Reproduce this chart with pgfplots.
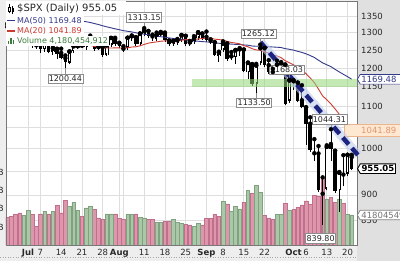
\documentclass[border=0pt]{standalone}
\usepackage{fontspec}
\setmainfont{DejaVu Sans}
\usepackage{pgfplots}
\usepackage{pgfplotstable}
\pgfplotsset{compat=1.18}
\usetikzlibrary{shapes.symbols}

\definecolor{gridc}{RGB}{222,222,222}
\definecolor{monthc}{RGB}{170,170,170}
\definecolor{framec}{RGB}{120,120,120}
\definecolor{panelc}{RGB}{224,224,224}
\definecolor{stripc}{RGB}{238,238,238}
\definecolor{ma50c}{RGB}{52,58,138}
\definecolor{ma20c}{RGB}{204,58,48}
\definecolor{vpink}{RGB}{222,150,172}
\definecolor{vpinkd}{RGB}{192,112,138}
\definecolor{vgreen}{RGB}{170,200,168}
\definecolor{vgreend}{RGB}{128,162,128}
\definecolor{bandc}{RGB}{150,215,120}
\definecolor{trendc}{RGB}{28,36,128}
\definecolor{haloc}{RGB}{190,205,235}
\definecolor{textc}{RGB}{40,40,40}
\definecolor{volc}{RGB}{60,125,60}
\definecolor{calloutc}{RGB}{140,140,140}
\definecolor{peach}{RGB}{255,232,210}
\definecolor{peachd}{RGB}{238,180,140}
\definecolor{peacht}{RGB}{225,150,110}

% up candles (close > open)
\pgfplotstableread{
i o h l c
-4 1314.54 1335.63 1314.54 1321.97
-1 1278.06 1290.31 1274.86 1280.00
0 1276.69 1285.31 1260.68 1284.91
4 1251.84 1274.17 1242.84 1273.70
6 1245.25 1257.65 1236.76 1253.39
10 1214.65 1245.52 1211.39 1245.36
11 1246.31 1262.31 1241.49 1260.32
12 1258.22 1262.23 1251.81 1260.68
14 1257.08 1277.42 1248.83 1277.00
15 1278.87 1291.17 1276.06 1282.19
17 1253.51 1263.23 1251.75 1257.76
19 1236.38 1263.20 1236.38 1263.20
20 1264.52 1284.33 1264.52 1284.26
24 1254.87 1284.88 1254.67 1284.88
25 1283.99 1291.67 1276.00 1289.19
27 1266.29 1297.85 1262.11 1296.32
28 1294.42 1313.15 1292.17 1305.32
31 1282.11 1300.11 1276.84 1292.93
32 1293.85 1302.05 1290.74 1298.20
35 1267.34 1276.01 1261.16 1274.54
36 1271.07 1281.40 1265.22 1277.72
37 1277.59 1293.09 1277.59 1292.20
39 1267.03 1275.65 1263.21 1271.51
40 1271.29 1289.59 1270.03 1281.66
41 1283.79 1300.68 1283.79 1300.68
46 1233.21 1244.94 1217.23 1242.31
47 1249.50 1274.42 1247.12 1267.79
49 1227.50 1243.90 1221.60 1232.04
50 1229.04 1249.98 1211.54 1249.05
51 1245.88 1255.09 1233.81 1251.70
53 1188.31 1214.84 1169.28 1213.60
55 1157.08 1211.14 1133.50 1206.51
56 1213.11 1265.12 1213.11 1255.08
60 1187.87 1220.03 1187.87 1209.18
61 1204.47 1215.77 1187.54 1213.27
63 1113.78 1168.03 1113.78 1166.36
72 912.75 1006.93 912.75 1003.35
75 909.53 947.71 865.83 946.43
77 943.51 985.40 943.51 985.40
}\upc

% down candles (close <= open)
\pgfplotstableread{
i o h l c
-5 1317.23 1326.02 1304.42 1314.29
-3 1316.29 1316.29 1283.15 1283.15
-2 1283.60 1289.45 1272.00 1278.38
1 1284.91 1285.07 1261.52 1261.52
2 1262.96 1271.34 1252.01 1262.90
3 1262.90 1273.95 1240.68 1252.31
5 1273.38 1277.36 1244.57 1244.69
7 1253.12 1253.12 1225.01 1239.49
8 1241.61 1253.50 1225.01 1228.30
9 1226.83 1234.35 1200.44 1214.91
13 1261.82 1267.74 1255.70 1260.00
16 1283.22 1283.22 1251.48 1252.54
18 1257.76 1260.09 1234.37 1234.37
21 1281.37 1284.93 1265.97 1267.38
22 1269.42 1270.52 1254.54 1260.31
23 1253.27 1260.49 1247.45 1249.01
26 1286.51 1286.51 1264.29 1266.07
29 1304.79 1304.79 1285.64 1289.59
30 1288.64 1294.03 1274.86 1285.83
33 1298.14 1300.22 1274.51 1278.60
34 1276.65 1276.65 1263.11 1266.69
38 1290.47 1290.47 1264.87 1266.84
42 1296.49 1297.59 1282.74 1282.83
43 1287.83 1303.04 1272.20 1277.58
44 1276.61 1280.60 1265.59 1274.98
45 1271.80 1271.80 1232.83 1236.83
48 1267.98 1268.66 1224.51 1224.51
52 1250.92 1250.92 1192.70 1192.70
54 1210.34 1210.34 1155.88 1156.39
57 1255.37 1255.37 1205.61 1207.09
58 1207.61 1221.15 1187.06 1188.22
59 1188.79 1197.41 1179.79 1185.87
62 1209.07 1209.07 1106.39 1106.39
64 1164.17 1167.03 1140.77 1161.06
65 1160.64 1160.64 1111.43 1114.28
66 1115.16 1153.82 1098.14 1099.23
67 1097.56 1097.56 1007.97 1056.89
68 1057.60 1072.91 996.23 996.23
69 988.91 1021.06 970.97 984.94
70 988.42 1005.25 909.19 909.92
71 902.31 936.36 839.80 899.22
73 1009.97 1044.31 972.07 998.01
74 994.60 994.60 903.99 907.84
76 942.29 984.64 918.74 940.55
78 980.40 985.44 952.47 955.05
}\dnc

% moving averages
\pgfplotstableread{
i ma20 ma50
-5 1359.6 1380.6
-4 1356.2 1380.4
-3 1350.4 1378.7
-2 1344.3 1377.0
-1 1339.0 1374.8
0 1334.4 1372.7
1 1328.6 1370.4
2 1321.6 1368.1
3 1316.1 1365.3
4 1311.7 1362.8
5 1306.0 1359.8
6 1301.9 1357.0
7 1296.9 1354.1
8 1290.3 1350.5
9 1283.1 1346.5
10 1277.8 1343.3
11 1273.9 1340.1
12 1269.8 1337.5
13 1266.9 1334.7
14 1264.9 1332.5
15 1263.3 1330.1
16 1259.8 1327.0
17 1258.5 1324.0
18 1256.3 1320.2
19 1255.5 1317.0
20 1255.4 1314.2
21 1255.7 1311.2
22 1255.6 1308.6
23 1255.4 1305.7
24 1256.0 1303.9
25 1258.2 1302.0
26 1258.9 1299.5
27 1261.7 1297.4
28 1265.6 1295.5
29 1269.3 1293.6
30 1271.3 1291.8
31 1272.9 1290.1
32 1274.8 1288.0
33 1275.8 1286.3
34 1275.2 1284.4
35 1274.9 1282.8
36 1276.1 1281.6
37 1277.8 1280.6
38 1279.5 1278.8
39 1279.9 1277.0
40 1279.7 1275.6
41 1281.4 1274.9
42 1282.5 1273.7
43 1284.0 1272.9
44 1283.5 1272.0
45 1280.9 1270.5
46 1279.7 1268.9
47 1278.2 1268.6
48 1274.2 1267.5
49 1271.3 1266.5
50 1269.5 1265.8
51 1267.4 1265.6
52 1262.1 1264.2
53 1258.9 1263.4
54 1253.4 1261.1
55 1250.0 1260.3
56 1248.8 1260.4
57 1244.6 1259.7
58 1240.7 1258.9
59 1236.4 1258.3
60 1232.8 1257.6
61 1228.4 1256.7
62 1219.6 1253.6
63 1214.0 1251.7
64 1208.3 1249.4
65 1202.2 1246.0
66 1195.0 1243.0
67 1184.5 1239.0
68 1173.1 1234.2
69 1160.7 1228.6
70 1143.8 1221.1
71 1126.1 1213.8
72 1116.7 1208.6
73 1105.9 1203.6
74 1093.5 1196.1
75 1080.5 1189.2
76 1064.7 1182.7
77 1053.6 1176.5
78 1041.9 1169.5
}\matab

% volume (billions), down days
\pgfplotstableread{
i v
-5 3.85
-4 3.95
-3 4.2
-2 4.45
1 4.2
2 2.55
3 4.3
5 4.3
7 5.5
8 4.45
9 6.15
13 3.95
16 4.9
17 3.75
18 3.55
21 4.3
22 3.7
23 3.5
26 4.3
29 3.5
30 3.6
33 3.25
34 3.3
38 2.85
39 2.8
42 2.8
43 3.7
44 3.7
45 4.2
46 4.0
48 5.7
52 5.9
54 7.2
57 4.1
58 3.75
59 3.6
62 5.8
64 4.9
65 5.25
66 5.55
67 6.1
68 5.6
69 6.85
70 6.7
71 9.2
73 6.55
74 5.9
76 5.8
}\voldn

% volume (billions), up days
\pgfplotstableread{
i v
-1 4.1
0 4.8
4 4.7
6 4.7
10 5.35
11 5.9
12 4.8
14 5.15
15 5.35
19 4.3
20 4.3
24 4.2
25 4.2
27 3.85
28 3.75
31 3.15
32 3.15
35 3.6
36 3.1
37 2.95
40 2.6
41 2.95
47 6.0
49 4.65
50 5.3
51 5.0
53 7.55
55 8.25
56 7.3
60 4.2
61 4.2
63 4.8
72 6.4
75 6.4
77 4.2
78 4.18
}\volup

\tikzset{
  mycallout/.style={draw=calloutc, fill=white, line width=0.6bp, inner xsep=1bp,
    inner ysep=1.6bp, text=textc, font=\fontsize{8bp}{9bp}\selectfont},
  mytag/.style={signal, signal to=west, signal pointer angle=120, fill=white,
    line width=0.7bp, inner xsep=1.2bp, inner ysep=1.6bp, anchor=west,
    font=\fontsize{8.5bp}{10bp}\selectfont},
}

\begin{document}
\begin{tikzpicture}[x=1bp,y=1bp]
% backgrounds
\fill[stripc] (0,0) rectangle (400,261);
\fill[panelc] (357,0) rectangle (400,261);
\fill[white] (6,16) rectangle (357,260);
\draw[gray!70, dotted, line width=0.6bp] (0,3.5) -- (357,3.5);

% axis A: grid, frame, tick labels
\begin{axis}[scale only axis, width=351bp, height=244bp,
  at={(6bp,16bp)}, anchor=south west, xmin=-5.3, xmax=79.28,
  ymode=log, ymin=803.4, ymax=1396.7,
  axis line style={framec, line width=0.8bp},
  xmajorgrids=true, ymajorgrids=true,
  major grid style={gridc, line width=0.6bp},
  xtick={3,8,13,18,23,28,33,38,47,52,57,62,67,72,77},
  xticklabels={7,14,21,28,{},11,18,25,8,15,22,{},6,13,20},
  extra x ticks={0,22,43,64},
  extra x tick labels={\textbf{Jul},\textbf{Aug},\textbf{Sep},\textbf{Oct}},
  extra x tick style={grid style={monthc, line width=0.7bp}},
  ytick={850,900,950,1000,1050,1100,1150,1200,1250,1300,1350},
  yticklabels={850,900,{},1000,{},1100,1150,1200,1250,1300,1350},
  yticklabel pos=right,
  major tick length=0pt, minor tick length=0pt,
  tick label style={text=textc, font=\fontsize{8.5bp}{10bp}\selectfont, inner sep=0pt},
  xticklabel style={anchor=base, yshift=-10.5bp},
  yticklabel style={anchor=west, xshift=4bp},
]
\end{axis}

% axis B: volume
\begin{axis}[scale only axis, width=351bp, height=244bp,
  at={(6bp,16bp)}, anchor=south west, xmin=-5.3, xmax=79.28,
  ymin=0, ymax=33.8,
  axis x line=none, axis y line*=left, y axis line style={draw=none},
  xtick=\empty, ytick={2.5,5,7.5,10},
  yticklabels={2.5B,5.0B,7.5B,10.0B},
  major tick length=0pt,
  yticklabel style={anchor=east, xshift=-2bp, inner sep=0pt, text=textc,
    font=\fontsize{8.5bp}{10bp}\selectfont},
]
\addplot[ybar, bar width=3.6bp, bar shift=0pt, fill=vpink, draw=vpinkd, line width=0.5bp]
  table[x=i, y=v] {\voldn};
\addplot[ybar, bar width=3.6bp, bar shift=0pt, fill=vgreen, draw=vgreend, line width=0.5bp]
  table[x=i, y=v] {\volup};
\end{axis}

% axis C: price
\begin{axis}[scale only axis, width=351bp, height=244bp,
  at={(6bp,16bp)}, anchor=south west, xmin=-5.3, xmax=79.28,
  ymode=log, ymin=803.4, ymax=1396.7, clip=false,
  axis line style={framec, line width=0.8bp},
  xtick=\empty, ytick=\empty]
% wicks
\addplot[only marks, mark=none, forget plot,
  error bars/.cd, y dir=minus, y explicit, error mark=none,
  error bar style={draw=black, line width=0.8bp}]
  table[x=i, y=h, y error minus expr=\thisrow{h}-\thisrow{l}] {\dnc};
\addplot[only marks, mark=none, forget plot,
  error bars/.cd, y dir=minus, y explicit, error mark=none,
  error bar style={draw=black, line width=0.8bp}]
  table[x=i, y=h, y error minus expr=\thisrow{h}-\thisrow{l}] {\upc};
% down bodies
\addplot[only marks, mark=none, forget plot,
  error bars/.cd, y dir=minus, y explicit, error mark=-,
  error mark options={draw=black, mark size=1.7bp, line width=0.8bp},
  error bar style={draw=black, line width=3.4bp}]
  table[x=i, y=o, y error minus expr=\thisrow{o}-\thisrow{c}] {\dnc};
% up bodies (hollow)
\addplot[only marks, mark=none, forget plot,
  error bars/.cd, y dir=minus, y explicit, error mark=none,
  error bar style={draw=black, line width=3.4bp}]
  table[x=i, y=c, y error minus expr=\thisrow{c}-\thisrow{o}] {\upc};
\addplot[only marks, mark=none, forget plot,
  error bars/.cd, y dir=minus, y explicit, error mark=-,
  error mark options={draw=black, mark size=1.7bp, line width=0.8bp},
  error bar style={draw=white, line width=1.8bp}]
  table[x=i, y=c, y error minus expr=\thisrow{c}-\thisrow{o}] {\upc};
% moving averages
\addplot[ma50c, line width=0.9bp, mark=none] table[x=i, y=ma50] {\matab};
\addplot[ma20c, line width=0.9bp, mark=none] table[x=i, y=ma20] {\matab};
% green band
\addplot[draw=none, fill=bandc, fill opacity=0.55, forget plot]
  coordinates {(39.5,1149) (79.28,1149) (79.28,1170) (39.5,1170)} -- cycle;
% MA20 tag box (peach)
\filldraw[fill=peach, draw=peachd, line width=0.7bp]
  (axis cs:76.14,1057) rectangle (axis cs:90.5,1026.5);
\node[anchor=west, inner sep=0pt, text=peacht, font=\fontsize{8.5bp}{10bp}\selectfont]
  at (axis cs:80.24,1041.89) {1041.89};
% trend line
\addplot[haloc, line width=9bp, opacity=0.6, forget plot] coordinates {(56,1272) (79.5,985)};
\addplot[trendc, line width=4.5bp, dash pattern=on 9bp off 5bp, forget plot]
  coordinates {(56,1272) (79.5,985)};
% callouts
\draw[calloutc, line width=0.6bp] (axis cs:9,1200.44) -- ++(0pt,-6bp)
  node[mycallout, anchor=north] {1200.44};
\draw[calloutc, line width=0.6bp] (axis cs:28,1313.15) -- ++(0pt,6bp)
  node[mycallout, anchor=south] {1313.15};
\draw[calloutc, line width=0.6bp] (axis cs:56,1265.12) -- ++(0pt,6bp)
  node[mycallout, anchor=south, xshift=-2bp] {1265.12};
\draw[calloutc, line width=0.6bp] (axis cs:55,1133.50) -- ++(0pt,-5bp)
  node[mycallout, anchor=north, xshift=-2bp] {1133.50};
\draw[calloutc, line width=0.6bp] (axis cs:63,1168.03) -- ++(0pt,5bp)
  node[mycallout, anchor=south, xshift=-3bp] {1168.03};
\draw[calloutc, line width=0.6bp] (axis cs:73,1044.31) -- ++(0pt,5bp)
  node[mycallout, anchor=south, xshift=-1.5bp] {1044.31};
\draw[calloutc, line width=0.6bp] (axis cs:71,839.80) -- ++(0pt,-8bp)
  node[mycallout, anchor=north, xshift=-2bp] {839.80};
% value tags
\node[mytag, draw=ma50c, text=ma50c, text width=44bp, align=left]
  at (axis cs:79.28,1169.48) {1169.48};
\node[mytag, draw=black, text=black, line width=0.9bp, font=\fontsize{8.5bp}{10bp}\selectfont\bfseries]
  at (axis cs:79.28,955.05) {955.05};
\end{axis}

% volume tag
\node[mytag, draw=gray, text=gray!90!black, text width=50bp, align=left] at (357,46) {4180454912};

% legend
\fill[white] (6,246) rectangle (126,260);
\fill[white] (6,235.5) rectangle (84,246);
\fill[white] (6,225) rectangle (84,235.5);
\fill[white] (6,214.5) rectangle (109,225);
\draw[black, line width=0.6bp] (9,247.5) -- (9,256.5);
\filldraw[draw=black, fill=white, line width=0.5bp] (8,249.5) rectangle (10,254);
\draw[black, line width=0.6bp] (12.5,247) -- (12.5,255);
\fill[black] (11.5,248.5) rectangle (13.5,253);
\node[anchor=west, inner sep=0pt, text=textc, font=\fontsize{10bp}{12bp}\selectfont]
  at (17,252) {\$SPX (Daily) 955.05};
\draw[ma50c, line width=1.4bp] (7,240.5) -- (15,240.5);
\node[anchor=west, inner sep=0pt, text=ma50c, font=\fontsize{8bp}{9.6bp}\selectfont]
  at (17,240.5) {MA(50) 1169.48};
\draw[ma20c, line width=1.4bp] (7,230) -- (15,230);
\node[anchor=west, inner sep=0pt, text=ma20c, font=\fontsize{8bp}{9.6bp}\selectfont]
  at (17,230) {MA(20) 1041.89};
\fill[volc] (7.5,216.5) rectangle (9,219.5);
\fill[volc] (10,216.5) rectangle (11.5,222.5);
\fill[volc] (12.5,216.5) rectangle (14,220.5);
\node[anchor=west, inner sep=0pt, text=volc, font=\fontsize{8bp}{9.6bp}\selectfont]
  at (17,220) {Volume 4,180,454,912};

\pgfresetboundingbox
\useasboundingbox (0,0) rectangle (400,261);
\end{tikzpicture}
\end{document}
